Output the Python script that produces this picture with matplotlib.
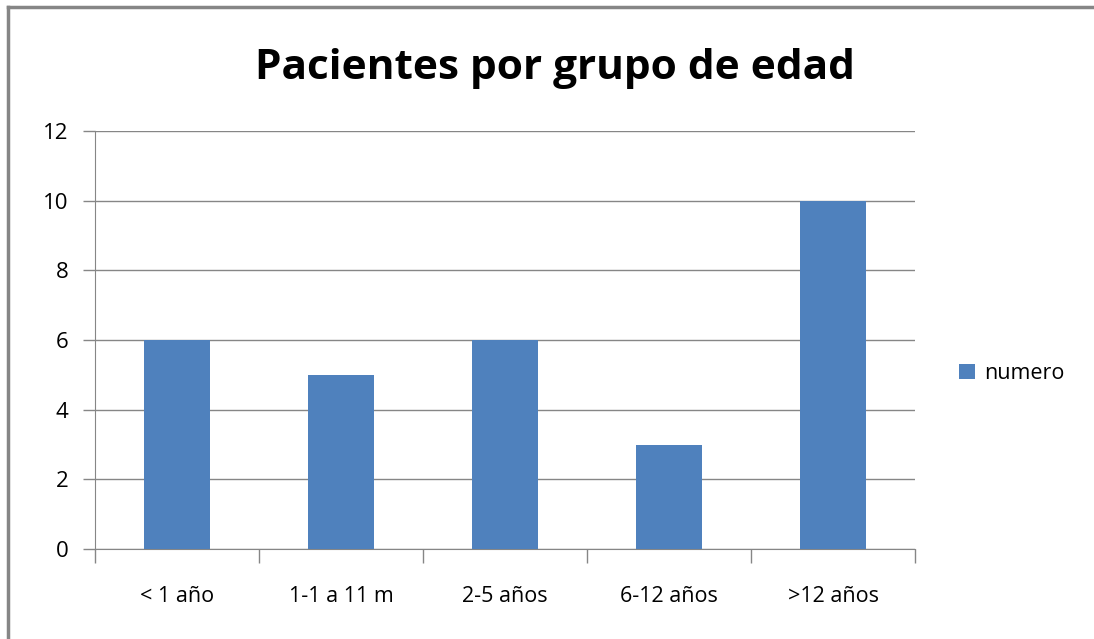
import matplotlib.pyplot as plt
from matplotlib.lines import Line2D

categorias = ['< 1 año', '1-1 a 11 m', '2-5 años', '6-12 años', '>12 años']
numero = [6, 5, 6, 3, 10]
yticks = [0, 2, 4, 6, 8, 10, 12]

plt.rcParams['font.family'] = ['Open Sans', 'DejaVu Sans']

fig = plt.figure(figsize=(10.94, 6.39), dpi=100)
ax = fig.add_axes([95/1094, 1 - 549/639, 820/1094, 418/639])

x = range(len(categorias))
ax.bar(x, numero, width=0.4, color='#4F81BD', zorder=3, label='numero')

ax.set_xlim(-0.5, len(categorias) - 0.5)
ax.set_ylim(0, 12)
ax.set_yticks(yticks)
ax.set_yticklabels([str(v) for v in yticks], fontsize=16)
ax.yaxis.grid(True, color='#868686', linewidth=1, zorder=0)

# etiquetas en el centro, marcas entre categorias
ax.set_xticks(list(x))
ax.set_xticklabels(categorias, fontsize=15.5)
ax.tick_params(axis='x', length=0, pad=27)
ax.set_xticks([i - 0.5 for i in range(len(categorias) + 1)], minor=True)
ax.tick_params(axis='x', which='minor', length=10, color='#868686', width=1)
ax.tick_params(axis='y', length=9, color='#868686', width=1, pad=10)

for s in ['top', 'right']:
    ax.spines[s].set_visible(False)
for s in ['left', 'bottom']:
    ax.spines[s].set_color('#868686')

fig.text(555/1094, 0.893, 'Pacientes por grupo de edad', ha='center', va='center',
         fontsize=30.5, fontweight='bold')

ax.legend(loc='center left', bbox_to_anchor=(1.03, 0.42), frameon=False,
          fontsize=15.5, handlelength=0.75, handleheight=0.75, handletextpad=0.4)

# borde de la figura (solo arriba e izquierda)
fig.add_artist(Line2D([8/1094, 8/1094], [0, 1 - 7/639], transform=fig.transFigure,
                      color='#868686', linewidth=2.5))
fig.add_artist(Line2D([8/1094, 1], [1 - 7/639, 1 - 7/639], transform=fig.transFigure,
                      color='#868686', linewidth=2.5))

plt.savefig('out.png', dpi=100)
plt.close()
